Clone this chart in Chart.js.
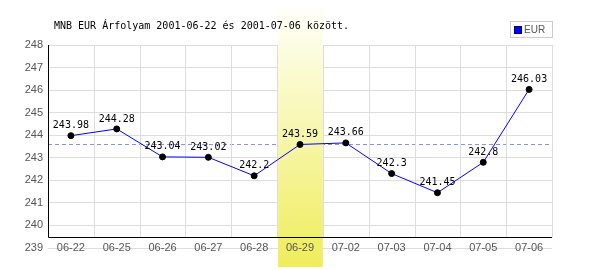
<!DOCTYPE html>
<html lang="hu">
<head>
    <meta charset="UTF-8">
    <title>MNB EUR árfolyam</title>
    <script src="https://cdn.jsdelivr.net/npm/chart.js"></script>
    <style>
        body { margin: 0; background: #fff; }
        #myChart { display: block; }
    </style>
</head>
<body>
    <canvas id="myChart" width="600" height="270"></canvas>
    <script>
    // data
    const days = ['06-22', '06-25', '06-26', '06-27', '06-28', '06-29', '07-02', '07-03', '07-04', '07-05', '07-06'];
    const eurRates = [243.98, 244.28, 243.04, 243.02, 242.2, 243.59, 243.66, 242.3, 241.45, 242.8, 246.03];
    const yMin = 239;
    const yMax = 248;
    const highlightDay = '06-29';
    const titleText = 'MNB EUR Árfolyam 2001-06-22 és 2001-07-06 között.';

    const monoFont = '10px "DejaVu Sans Mono", monospace';
    const sansFamily = '"Liberation Sans", Arial, sans-serif';

    const decor = {
        id: 'decor',
        beforeDatasetsDraw: (chart) => {
            const ctx = chart.ctx;
            const area = chart.chartArea;
            const xs = chart.scales.x;
            const ys = chart.scales.y;
            const hi = days.indexOf(highlightDay);
            const baseY = Math.round(ys.getPixelForValue(yMin + 0.44)) - 0.5;
            ctx.save();

            // dashed reference line at the highlighted day's rate
            const refY = Math.round(ys.getPixelForValue(eurRates[hi])) + 0.5;
            ctx.strokeStyle = '#8c8cff';
            ctx.lineWidth = 1;
            ctx.setLineDash([4, 3]);
            ctx.beginPath();
            ctx.moveTo(area.left, refY);
            ctx.lineTo(area.right, refY);
            ctx.stroke();
            ctx.setLineDash([]);

            // highlighted column
            const bx0 = xs.getPixelForValue(hi - 0.5);
            const bx1 = xs.getPixelForValue(hi + 0.5);
            const top = area.top - 37;
            const bottom = chart.height - 3;
            const grad = ctx.createLinearGradient(0, top, 0, bottom);
            grad.addColorStop(0, '#fffffa');
            grad.addColorStop(1, '#efed5a');
            ctx.fillStyle = grad;
            ctx.fillRect(bx0 + 1, top, bx1 - bx0 - 1, bottom - top);

            // vertical grid between categories
            ctx.strokeStyle = '#dddddd';
            for (let i = 0; i <= days.length; i++) {
                const gx = Math.round(xs.getPixelForValue(i - 0.5)) + 0.5;
                ctx.beginPath();
                ctx.moveTo(gx, area.top);
                ctx.lineTo(gx, baseY);
                ctx.stroke();
            }

            // black axis lines
            const lx = Math.round(area.left) + 0.5;
            ctx.strokeStyle = '#000';
            ctx.beginPath();
            ctx.moveTo(lx, area.top);
            ctx.lineTo(lx, baseY);
            ctx.lineTo(area.right, baseY);
            ctx.stroke();
            ctx.restore();
        },
        afterDatasetsDraw: (chart) => {
            const ctx = chart.ctx;
            const meta = chart.getDatasetMeta(0);
            ctx.save();
            ctx.font = monoFont;
            ctx.fillStyle = '#000';
            ctx.textAlign = 'center';
            ctx.textBaseline = 'middle';
            meta.data.forEach((pt, i) => {
                ctx.fillText(String(eurRates[i]), pt.x, pt.y - 10);
            });
            ctx.restore();
        },
        afterDraw: (chart) => {
            const ctx = chart.ctx;
            const area = chart.chartArea;
            const ds = chart.data.datasets[0];
            ctx.save();
            // title
            ctx.font = monoFont;
            ctx.fillStyle = '#000';
            ctx.textAlign = 'left';
            ctx.textBaseline = 'middle';
            ctx.fillText(titleText, area.left + 6, 26);

            // legend box
            ctx.strokeStyle = '#cccccc';
            ctx.lineWidth = 1;
            ctx.strokeRect(area.right - 41.5, 21.5, 42, 16);
            ctx.fillStyle = ds.borderColor;
            ctx.fillRect(area.right - 37, 27, 6, 6);
            ctx.strokeStyle = '#000066';
            ctx.strokeRect(area.right - 37.5, 26.5, 7, 7);
            ctx.fillStyle = '#555';
            ctx.font = '10px ' + sansFamily;
            ctx.fillText(ds.label, area.right - 28, 30);
            ctx.restore();
        }
    };

    const config = {
        type: 'line',
        data: {
            labels: days,
            datasets: [{
                label: 'EUR',
                data: eurRates,
                borderColor: '#0000ff',
                borderWidth: 1,
                tension: 0,
                pointRadius: 3,
                pointBorderWidth: 1,
                pointBackgroundColor: '#000',
                pointBorderColor: '#000',
                pointHoverRadius: 3
            }]
        },
        plugins: [decor],
        options: {
            responsive: false,
            animation: false,
            events: [],
            layout: { padding: { top: 45, right: 48, left: 0, bottom: 22 } },
            plugins: {
                legend: { display: false },
                title: { display: false },
                tooltip: { enabled: false }
            },
            scales: {
                x: {
                    // x axis sits on the lowest y value, labels straddle the 239 line
                    position: { y: yMin },
                    offset: true,
                    grid: { display: false, drawTicks: false, tickLength: 0 },
                    border: { display: false },
                    ticks: {
                        z: 1,
                        padding: -7,
                        color: '#555',
                        autoSkip: false,
                        maxRotation: 0,
                        font: { family: sansFamily, size: 11 }
                    }
                },
                y: {
                    min: yMin,
                    max: yMax,
                    grid: { color: '#dddddd', drawTicks: false },
                    border: { display: false },
                    afterFit: (scale) => { scale.width = 48; },
                    ticks: {
                        stepSize: 1,
                        padding: 5,
                        color: '#555',
                        font: { family: sansFamily, size: 11 }
                    }
                }
            }
        }
    };

    const myChart = new Chart(document.getElementById('myChart'), config);
    </script>
</body>
</html>
